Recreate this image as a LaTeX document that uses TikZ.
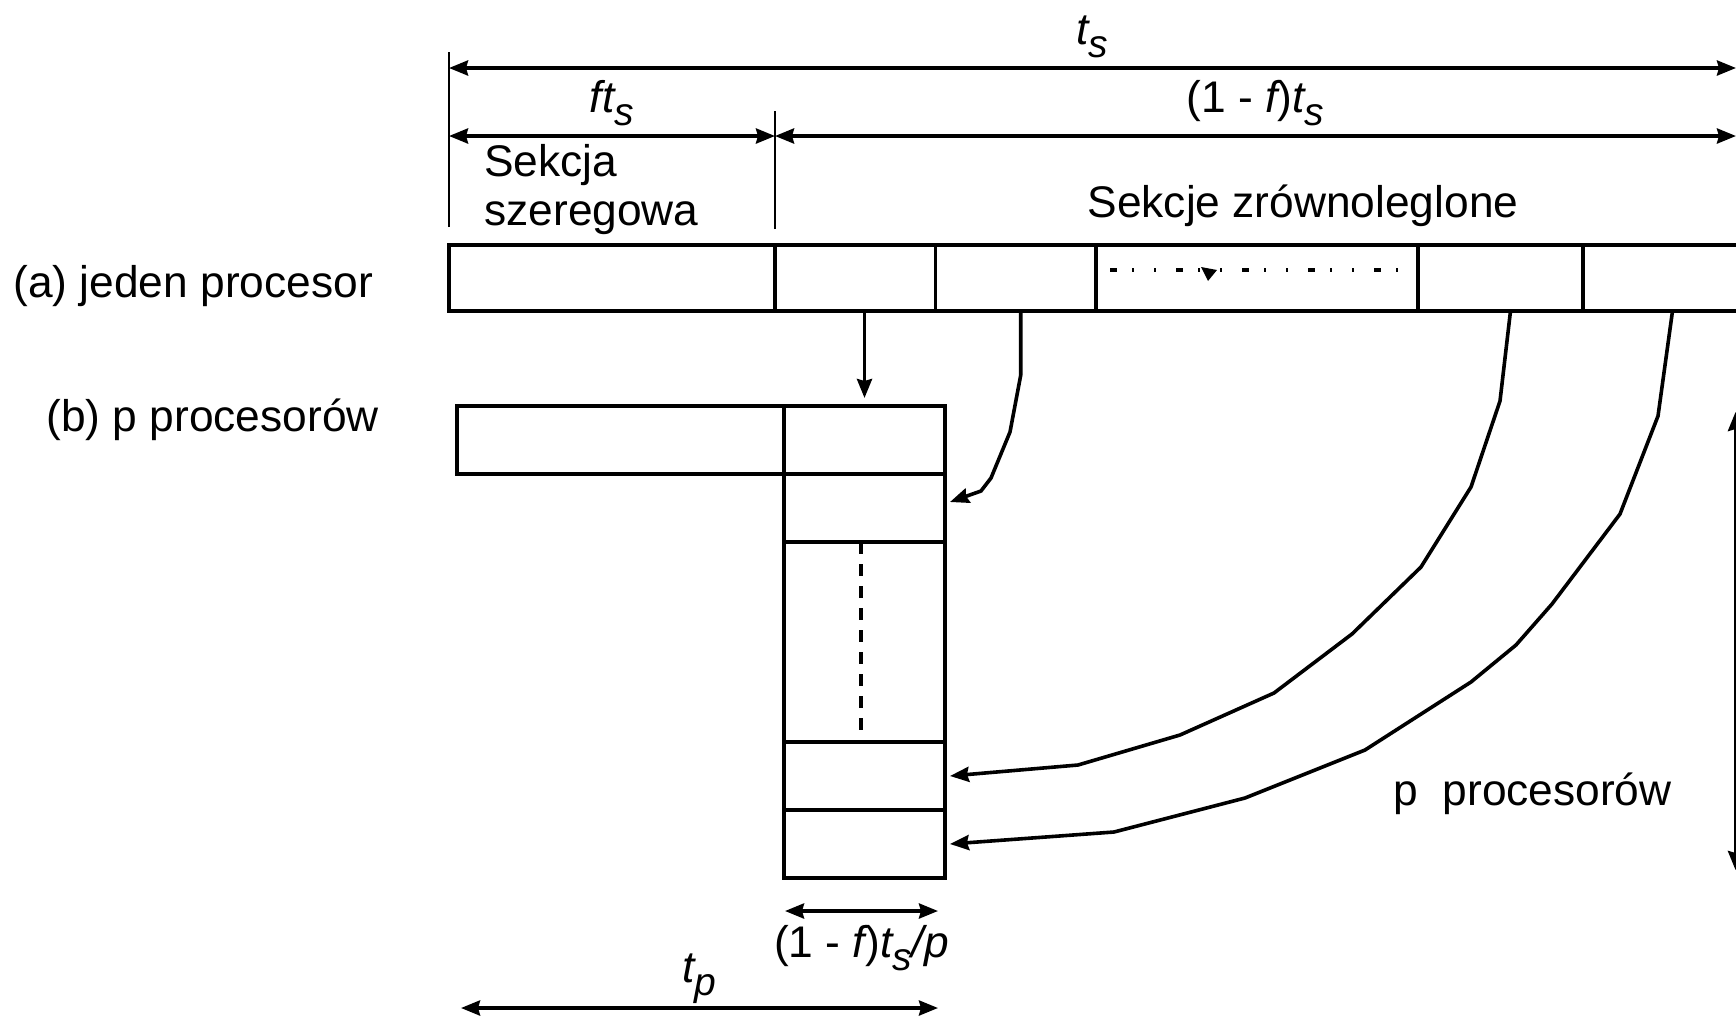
\documentclass[tikz,border=0pt]{standalone}
\usepackage{fontspec}
\setmainfont{Liberation Sans}
\usetikzlibrary{positioning, arrows.meta}

% italic subscript, as in the slide
\newcommand{\lowsub}[1]{\raisebox{-0.3em}{\fontsize{19.5}{20}\selectfont\itshape #1}}

\begin{document}
\begin{tikzpicture}[
  x=0.5pt, y=-0.5pt,
  font=\fontsize{22.15}{24}\selectfont,
  cell/.style={
    rectangle, draw, line width=1.8pt, inner sep=0pt, outer sep=0pt,
    minimum height=33pt
  },
  qcell/.style={cell, minimum width=80.5pt, minimum height=34pt},
  arr/.style={-{Stealth[length=9.5pt, width=7.5pt, inset=1pt]}, line width=1.8pt},
  dim/.style={{Stealth[length=9.5pt, width=7.5pt, inset=1pt]}-{Stealth[length=9.5pt, width=7.5pt, inset=1pt]},
    line width=1.8pt},
  tick/.style={line width=1.4pt},
  vdash/.style={line width=1.6pt, dash pattern=on 6pt off 5pt},
  dotline/.style={line width=1.6pt, dash pattern=on 3.5pt off 7.5pt on 1pt off 10pt on 1pt off 10pt},
  txt/.style={inner sep=0pt, anchor=base west},
  dimlabel/.style={inner sep=0pt, anchor=base}
]
\useasboundingbox (0,0) rectangle (1736,1019);
\clip (0,0) rectangle (1736,1019);

% ================ (a) jeden procesor ================
\node[cell, minimum width=163pt, anchor=north west] (ser) at (449,245) {};
\node[cell, minimum width=80.25pt, right=0pt of ser] (par1) {};
\node[cell, minimum width=80.25pt, right=0pt of par1] (par2) {};
\node[cell, minimum width=161pt, right=0pt of par2] (par3) {};
\node[cell, minimum width=82.5pt, right=0pt of par3] (par4) {};
\node[cell, minimum width=82.5pt, right=0pt of par4] (par5) {};

\node[txt] (labA) at (13,297) {(a) jeden procesor};
\node[txt] (serTxtA) at (484,176) {Sekcja};
\node[txt] (serTxtB) at (484,225) {szeregowa};
\node[dimlabel] (parTxt) at (1303,217) {Sekcje zrównoleglone};

% kropki w sekcji srodkowej
\draw[dotline] ([shift={(14,-8)}]par3.west) -- ([shift={(-8,-8)}]par3.east);
\fill (1201,267) -- (1217,270) -- (1208,281) -- cycle;

% ================ wymiary u gory ================
\draw[tick] (ser.north west) ++(0,-18) -- ++(0,-175);
\draw[tick] (par1.north west) ++(0,-16) -- ++(0,-118);

\coordinate (tsL) at (449,68);
\coordinate (tsR) at (1736,68);
\coordinate (ftL) at (449,136);
\coordinate (ftR) at (775,136);
\coordinate (rsR) at (1736,136);

\draw[dim] (tsL) -- node[dimlabel, yshift=12pt] (tsLab) {{\itshape t}\lowsub{s}} (tsR);
\draw[dim] (ftL) -- node[dimlabel, yshift=12pt] (ftLab) {{\itshape ft}\lowsub{s}} (ftR);
\draw[dim] (ftR) -- node[dimlabel, yshift=12pt] (rsLab) {(1 - {\itshape f}){\itshape t}\lowsub{s}} (rsR);

% ================ (b) p procesorow ================
\node[txt] (labB) at (46,431) {(b) p procesorów};

\node[qcell, anchor=north west] (q1) at (784,406) {};
\node[qcell, below=0pt of q1] (q2) {};
\node[qcell, below=0pt of q2, minimum height=100pt] (q3) {};
\node[qcell, below=0pt of q3] (q4) {};
\node[qcell, below=0pt of q4] (q5) {};
\node[cell, minimum width=163.5pt, minimum height=34pt, left=0pt of q1] (serP) {};

\draw[vdash] ([xshift=-1.75pt]q3.north) -- ([xshift=-1.75pt]q3.south);

% ================ przydzial sekcji ================
\draw[arr] (par1.south -| q1.north) -- ([yshift=4pt]q1.north);
\draw[arr] ([xshift=2.5pt]par2.south) -- ++(0,64) -- (1010,432) -- (991,478)
  -- (981,491) -- ([shift={(5,-6)}]q2.east);
\draw[arr] ([xshift=5pt]par4.south) -- (1500,401) -- (1471,487) -- (1421,567)
  -- (1352,634) -- (1274,693) -- (1180,735) -- (1078,765) -- ([xshift=2.5pt]q4.east);
\draw[arr] ([xshift=3.5pt]par5.south) -- (1658,416) -- (1620,514) -- (1552,604)
  -- (1516,645) -- (1471,682) -- (1365,750) -- (1245,798) -- (1114,832) -- ([xshift=2.5pt]q5.east);

\coordinate (pTop) at (1735.5,412);
\coordinate (pBot) at (1735.5,870);
\draw[dim] (pTop) -- (pBot);
\node[txt] (pTxt) at (1393,805) {p\ \ procesorów};

% ================ wymiary u dolu ================
\coordinate (pL) at (785,911);
\coordinate (pR) at (938,911);
\coordinate (tpL) at (461,1008);
\coordinate (tpR) at (938,1008);

\draw[dim] (pL) -- node[dimlabel, yshift=-23pt] (pLab)
  {(1 - {\itshape f}){\itshape t}\lowsub{s}{\itshape /p}} (pR);
\draw[dim] (tpL) -- node[dimlabel, yshift=13pt] (tpLab) {{\itshape t}\lowsub{p}} (tpR);
\end{tikzpicture}
\end{document}
